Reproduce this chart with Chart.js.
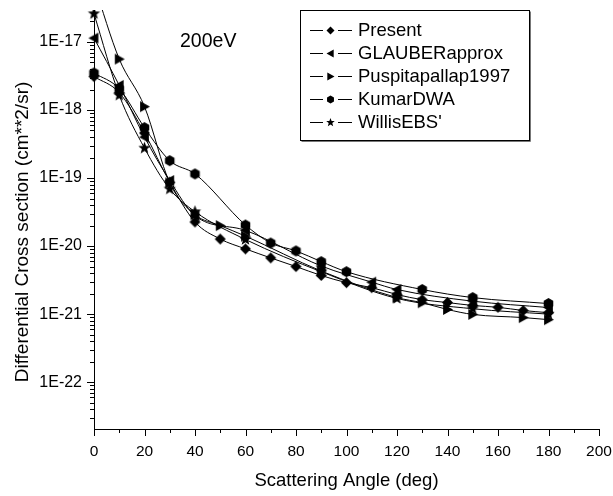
<!DOCTYPE html>
<html><head><meta charset="utf-8">
<script src="https://cdn.jsdelivr.net/npm/chart.js@4.4.0/dist/chart.umd.min.js"></script>
<style>html,body{margin:0;padding:0;background:#fff;}#wrap{width:613px;height:496px;position:relative;}</style>
</head><body><div id="wrap"><canvas id="c" width="613" height="496"></canvas></div>
<script>
// ---- data ----
const seriesNames = ['Present', 'GLAUBERapprox', 'Puspitapallap1997', 'KumarDWA', "WillisEBS'"];

const presentAngles = [0,10,20,30,40,50,60,70,80,90,100,110,120,130,140,150,160,170,180];
const presentValues = [3.1e-18,1.8e-18,4.6e-19,8.7e-20,2.26e-20,1.27e-20,9.1e-21,6.7e-21,5.0e-21,3.7e-21,2.9e-21,2.45e-21,1.94e-21,1.63e-21,1.48e-21,1.34e-21,1.26e-21,1.13e-21,1.05e-21];

const glauberAngles = [0,10,20,30,40,60,90,110,120,150,180];
const glauberValues = [1.14e-17,2.3e-18,4.0e-19,9.2e-20,2.8e-20,1.7e-20,5.1e-21,2.95e-21,2.3e-21,1.55e-21,1.25e-21];

const puspitaAngles = [0,10,20,30,40,50,60,90,120,130,140,150,170,180];
const puspitaValues = [7e-17,5.6e-18,1.12e-18,8.5e-20,2.9e-20,2.0e-20,1.4e-20,4.3e-21,1.75e-21,1.47e-21,1.17e-21,9.9e-22,8.9e-22,8.3e-22];

const kumarAngles = [0,10,20,30,40,60,70,80,90,100,130,150,180];
const kumarValues = [3.5e-18,2.05e-18,5.5e-19,1.8e-19,1.15e-19,2.04e-20,1.11e-20,8.5e-21,5.9e-21,4.2e-21,2.3e-21,1.75e-21,1.43e-21];

const willisAngles = [0,10,20,30,40,60,90,120,150,180];
const willisValues = [2.6e-17,1.65e-18,2.75e-19,6.9e-20,3.2e-20,1.25e-20,4.2e-21,1.7e-21,1.2e-21,1.0e-21];

const yTickValues = [1e-22,1e-21,1e-20,1e-19,1e-18,1e-17];
const xTickStep = 20;
const energyLabel = '200eV';
const xTitle = 'Scattering Angle (deg)';
const yTitle = 'Differential Cross section (cm**2/sr)';

// ---- marker shapes ----
function drawMarker(g, type, x, y, r) {
  g.beginPath();
  if (type === 'diamond') {
    g.moveTo(x - r, y); g.lineTo(x, y - r); g.lineTo(x + r, y); g.lineTo(x, y + r);
  } else if (type === 'tleft') {
    g.moveTo(x - r, y); g.lineTo(x + r * 0.8, y - r); g.lineTo(x + r * 0.8, y + r);
  } else if (type === 'tright') {
    g.moveTo(x + r, y); g.lineTo(x - r * 0.8, y - r); g.lineTo(x - r * 0.8, y + r);
  } else if (type === 'hex') {
    for (let k = 0; k < 6; k++) {
      const a = Math.PI / 2 + k * Math.PI / 3;
      const px = x + r * Math.cos(a), py = y + r * Math.sin(a);
      k ? g.lineTo(px, py) : g.moveTo(px, py);
    }
  } else if (type === 'star') {
    for (let k = 0; k < 10; k++) {
      const a = -Math.PI / 2 + k * Math.PI / 5;
      const rr = k % 2 ? r * 0.42 : r;
      const px = x + rr * Math.cos(a), py = y + rr * Math.sin(a);
      k ? g.lineTo(px, py) : g.moveTo(px, py);
    }
  }
  g.closePath();
  g.fillStyle = '#000';
  g.fill();
}
function markerCanvas(type, r) {
  const s = Math.ceil(2 * r + 2);
  const c = document.createElement('canvas');
  c.width = s; c.height = s;
  drawMarker(c.getContext('2d'), type, s / 2, s / 2, r);
  return c;
}
const markerTypes = ['diamond', 'tleft', 'tright', 'hex', 'star'];
const markerSizes = [5.5, 5.5, 5.5, 5.5, 6.5];
const legendSizes = [4, 4, 4, 4, 4.5];

const seriesAngles = [presentAngles, glauberAngles, puspitaAngles, kumarAngles, willisAngles];
const seriesValues = [presentValues, glauberValues, puspitaValues, kumarValues, willisValues];

const datasets = seriesNames.map((name, i) => ({
  label: name,
  data: seriesAngles[i].map((a, j) => ({ x: a, y: seriesValues[i][j] })),
  borderColor: '#000',
  backgroundColor: '#000',
  borderWidth: 1,
  pointStyle: markerCanvas(markerTypes[i], markerSizes[i]),
  pointRadius: markerSizes[i],
  cubicInterpolationMode: 'monotone',
  clip: { left: 10, top: 0, right: 10, bottom: 0 },
  fill: false
}));

const FONT = "'Liberation Sans', Arial, sans-serif";

const decor = {
  id: 'decor',
  afterDraw(chart) {
    const ctx = chart.ctx, xs = chart.scales.x, ys = chart.scales.y, a = chart.chartArea;
    ctx.save();
    ctx.strokeStyle = '#000'; ctx.lineWidth = 1;
    ctx.beginPath();
    for (let e = -24; e <= -16; e++) {
      for (let m = 1; m <= 9; m++) {
        const v = m * Math.pow(10, e);
        if (v < ys.min * 0.999 || v > ys.max * 1.001) continue;
        const py = Math.round(ys.getPixelForValue(v)) + 0.5;
        const len = m === 1 ? 7 : 4;
        ctx.moveTo(a.left, py); ctx.lineTo(a.left - len, py);
      }
    }
    for (let v = xs.min; v <= xs.max; v += xTickStep / 2) {
      const px = Math.round(xs.getPixelForValue(v)) + 0.5;
      const len = v % xTickStep === 0 ? 7 : 4;
      ctx.moveTo(px, a.bottom); ctx.lineTo(px, a.bottom + len);
    }
    ctx.stroke();

    // axis titles
    ctx.fillStyle = '#000';
    ctx.font = '18.5px ' + FONT;
    ctx.textAlign = 'center'; ctx.textBaseline = 'alphabetic';
    ctx.fillText(xTitle, (a.left + a.right) / 2, 486);
    ctx.save();
    ctx.translate(28, 232);
    ctx.rotate(-Math.PI / 2);
    ctx.font = '19px ' + FONT;
    ctx.fillText(yTitle, 0, 0);
    ctx.restore();

    // energy label
    ctx.font = '19.5px ' + FONT;
    ctx.textAlign = 'left';
    ctx.fillText(energyLabel, 180, 47);

    // legend
    const bx = 300, by = 10, bw = 229, bh = 130;
    ctx.fillStyle = '#fff';
    ctx.fillRect(bx, by, bw, bh);
    ctx.strokeStyle = '#000';
    ctx.strokeRect(bx + 0.5, by + 0.5, bw, bh);
    ctx.strokeStyle = '#777';
    ctx.beginPath();
    ctx.moveTo(bx + 1.5, by + bh + 1.5); ctx.lineTo(bx + bw + 1.5, by + bh + 1.5); ctx.lineTo(bx + bw + 1.5, by + 1.5);
    ctx.stroke();
    ctx.font = '18.5px ' + FONT;
    ctx.textBaseline = 'middle';
    chart.data.datasets.forEach((ds, i) => {
      const cy = 30 + i * 23.1;
      const ry = Math.round(cy) + 0.5;
      ctx.strokeStyle = '#000';
      ctx.beginPath();
      ctx.moveTo(310, ry); ctx.lineTo(323, ry);
      ctx.moveTo(338, ry); ctx.lineTo(352, ry);
      ctx.stroke();
      drawMarker(ctx, markerTypes[i], 330.5, ry, legendSizes[i]);
      ctx.fillStyle = '#000';
      ctx.fillText(ds.label, 358, cy + 1);
    });
    ctx.restore();
  }
};

new Chart(document.getElementById('c'), {
  type: 'line',
  data: { datasets },
  plugins: [decor],
  options: {
    responsive: false,
    animation: false,
    devicePixelRatio: 1,
    layout: { padding: { left: 0, right: 14, top: 10, bottom: 0 } },
    plugins: { legend: { display: false }, tooltip: { enabled: false }, title: { display: false } },
    scales: {
      x: {
        type: 'linear', min: 0, max: 200,
        grid: { display: false, drawTicks: false, tickLength: 0 },
        border: { display: true, color: '#000', width: 1 },
        ticks: { stepSize: xTickStep, color: '#000', padding: 13, font: { family: FONT, size: 15.5 }, maxRotation: 0 },
        afterFit(s) { s.height = 67; s.paddingLeft = 0; s.paddingRight = 0; }
      },
      y: {
        type: 'logarithmic', min: 2.05e-23, max: 2.95e-17,
        grid: { display: false, drawTicks: false, tickLength: 0 },
        border: { display: true, color: '#000', width: 1 },
        afterBuildTicks(s) { s.ticks = yTickValues.map(v => ({ value: v, major: true })); },
        ticks: {
          color: '#000', padding: 12, font: { family: FONT, size: 16 },
          callback(v) { return '1E' + Math.round(Math.log10(v)); }
        },
        afterFit(s) { s.width = 94; s.paddingTop = 0; s.paddingBottom = 0; }
      }
    }
  }
});
</script></body></html>
